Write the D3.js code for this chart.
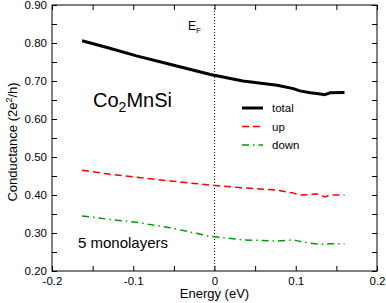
<!DOCTYPE html>
<html>
<head>
<meta charset="utf-8">
<script src="https://cdn.jsdelivr.net/npm/d3@7"></script>
<style>
body { margin: 0; background: #fff; }
svg text { font-family: "Liberation Sans", Arial, sans-serif; fill: #000; }
</style>
</head>
<body>
<div id="chart"></div>
<script>
// data
var energy    = [-0.163, -0.13, -0.096, -0.055, -0.005, 0.035, 0.077, 0.097, 0.105, 0.118, 0.126, 0.136, 0.142, 0.16];
var totalVals = [0.806, 0.787, 0.766, 0.744, 0.717, 0.700, 0.689, 0.680, 0.674, 0.669, 0.667, 0.664, 0.669, 0.670];
var upVals    = [0.465, 0.455, 0.447, 0.437, 0.426, 0.419, 0.413, 0.405, 0.400, 0.401, 0.403, 0.395, 0.400, 0.400];
var downVals  = [0.345, 0.336, 0.328, 0.314, 0.291, 0.282, 0.279, 0.282, 0.278, 0.273, 0.271, 0.270, 0.272, 0.272];
var xTicks = [-0.2, -0.1, 0, 0.1, 0.2];
var yTicks = [0.2, 0.3, 0.4, 0.5, 0.6, 0.7, 0.8, 0.9];

var series = [
    {name: "total", values: totalVals, color: "#000", width: 3, dash: null},
    {name: "up",    values: upVals,    color: "#ff0000", width: 1.5, dash: "7,4"},
    {name: "down",  values: downVals,  color: "#009900", width: 1.5, dash: "7,4,1.5,4"}
];

var W = 386, H = 303;
var margin = {top: 5, right: 9, bottom: 32, left: 52};
var width = W - margin.left - margin.right,
    height = H - margin.top - margin.bottom;

var svg = d3.select("#chart").append("svg")
    .attr("width", W).attr("height", H);
var g = svg.append("g")
    .attr("transform", "translate(" + margin.left + "," + margin.top + ")");

var x = d3.scaleLinear().domain([-0.2, 0.2]).range([0, width]);
var y = d3.scaleLinear().domain([0.2, 0.9]).range([height, 0]);

var minorX = d3.range(-0.2, 0.2001, 0.05);
var minorY = d3.range(0.2, 0.9001, 0.05);

// inward ticks on all four sides
function ticks(axis, scale, vals, tf) {
    var a = g.append("g").attr("transform", tf).call(axis(scale).tickValues(vals).tickSize(-5).tickFormat(""));
    a.select(".domain").remove();
    a.selectAll("line").attr("stroke", "#000");
}
ticks(d3.axisBottom, x, minorX, "translate(0," + height + ")");
ticks(d3.axisTop, x, minorX, "translate(0,0)");
ticks(d3.axisLeft, y, minorY, "translate(0,0)");
ticks(d3.axisRight, y, minorY, "translate(" + width + ",0)");

var xa = g.append("g").attr("transform", "translate(0," + height + ")")
    .call(d3.axisBottom(x).tickValues(xTicks).tickSize(0).tickPadding(6)
        .tickFormat(function(d) { return d === 0 ? "0" : String(+d.toFixed(1)); }));
xa.select(".domain").remove();
xa.selectAll("text").style("font-size", "11.5px");

var ya = g.append("g")
    .call(d3.axisLeft(y).tickValues(yTicks).tickSize(0).tickPadding(5).tickFormat(d3.format(".2f")));
ya.select(".domain").remove();
ya.selectAll("text").style("font-size", "11.5px");

// Fermi level
g.append("line")
    .attr("x1", x(0)).attr("x2", x(0)).attr("y1", 0).attr("y2", height)
    .attr("stroke", "#000").attr("stroke-width", 1).attr("stroke-dasharray", "1,2");

var line = d3.line()
    .x(function(d, i) { return x(energy[i]); })
    .y(function(d) { return y(d); });

series.forEach(function(s) {
    g.append("path")
        .datum(s.values)
        .attr("d", line)
        .attr("fill", "none")
        .attr("stroke", s.color)
        .attr("stroke-width", s.width)
        .attr("stroke-linejoin", "round")
        .attr("stroke-dasharray", s.dash);
});

// frame
g.append("rect").attr("width", width).attr("height", height)
    .attr("fill", "none").attr("stroke", "#000").attr("stroke-width", 1);

// legend
var leg = g.append("g").attr("transform", "translate(190,103)");
series.forEach(function(s, i) {
    leg.append("line")
        .attr("x1", 0).attr("x2", 21).attr("y1", i * 18.5).attr("y2", i * 18.5)
        .attr("stroke", s.color).attr("stroke-width", s.width)
        .attr("stroke-dasharray", s.dash);
    leg.append("text").attr("x", 30).attr("y", i * 18.5 + 4)
        .style("font-size", "11.5px").text(s.name);
});

// annotations
var t = g.append("text").attr("x", 41).attr("y", 102).style("font-size", "20px");
t.append("tspan").text("Co");
t.append("tspan").attr("dy", 5).style("font-size", "14px").text("2");
t.append("tspan").attr("dy", -5).text("MnSi");

var ef = g.append("text").attr("x", 136).attr("y", 25).style("font-size", "12px");
ef.append("tspan").text("E");
ef.append("tspan").attr("dy", 3).style("font-size", "8px").text("F");

g.append("text").attr("x", 26).attr("y", 243).style("font-size", "15px").text("5 monolayers");

// axis titles
svg.append("text").attr("x", margin.left + x(0)).attr("y", 298)
    .attr("text-anchor", "middle").style("font-size", "13px").text("Energy (eV)");

var yl = svg.append("text")
    .attr("transform", "translate(17," + (margin.top + height / 2 + 4) + ") rotate(-90)")
    .attr("text-anchor", "middle").style("font-size", "13px");
yl.append("tspan").text("Conductance (2e");
yl.append("tspan").attr("dy", -5).style("font-size", "9px").text("2");
yl.append("tspan").attr("dy", 5).text("/h)");
</script>
</body>
</html>
